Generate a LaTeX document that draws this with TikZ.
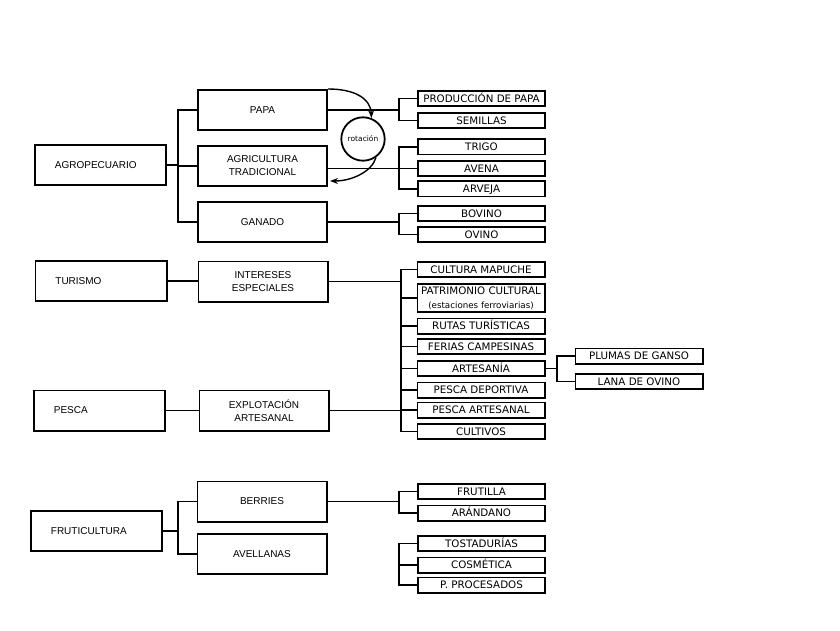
\documentclass[tikz,border=0pt]{standalone}
\usepackage{fontspec}
\setmainfont{DejaVu Sans}
\newfontfamily\arialfont{Liberation Sans}
\usetikzlibrary{calc, arrows.meta}

\begin{document}
\begin{tikzpicture}[x=1pt, y=-1pt, line width=1.8pt,
    sectorbox/.style={draw, rectangle, minimum height=40.2pt, text width=91.2pt, inner xsep=20pt, inner ysep=0pt, align=left, font=\arialfont\fontsize{10}{13}\selectfont},
    bigbox/.style={draw, rectangle, minimum width=129.2pt, minimum height=40.2pt, inner sep=0pt, align=center, font=\arialfont\fontsize{10}{13}\selectfont},
    smallbox/.style={draw, rectangle, minimum width=127.2pt, minimum height=15.2pt, inner sep=0pt, text height=7.4pt, text depth=0pt, align=center, font=\fontsize{10.3}{12}\selectfont},
    rotarrow/.style={line width=1.4pt, -{Stealth[length=8pt, width=6pt]}}]

    % keep the page at the size of the original picture
    \useasboundingbox (0,0) rectangle (840,631);
    \fill[white] (0,0) rectangle (840,631);

    % first column: the sectors
    \node[sectorbox] (agro) at (100.5,165) {AGROPECUARIO};
    \node[sectorbox] (turismo) at (101,281) {TURISMO};
    \node[sectorbox] (pesca) at (99.5,410.5) {PESCA};
    \node[sectorbox] (fruti) at (96.5,531) {FRUTICULTURA};

    % second column
    \node[bigbox] (papa) at (262.5,110) {PAPA};
    \node[bigbox] (agri) at (262.5,166) {AGRICULTURA\\TRADICIONAL};
    \node[bigbox] (ganado) at (262.5,222) {GANADO};
    \node[bigbox] (intereses) at (263,281.5) {INTERESES\\ESPECIALES};
    \node[bigbox] (explot) at (264,410.5) {EXPLOTACIÓN\\ARTESANAL};
    \node[bigbox] (berries) at (262,501.5) {BERRIES};
    \node[bigbox] (avellanas) at (262,554) {AVELLANAS};

    % the crop rotation between PAPA and AGRICULTURA
    \node[draw, circle, minimum size=43.4pt, inner sep=0pt, font=\fontsize{7.5}{9}\selectfont] (rot) at (363,139) {rotación};
    \draw[rotarrow] (papa.north east) .. controls +(26,0) and +(-1,-20) .. (rot.68);
    \draw[rotarrow] (rot.-55) .. controls +(-4,14) and +(22,0) .. ($(agri.south east)+(2,-6)$);

    % third column: the products
    \node[smallbox] (prod) at (481.5,98.5) {PRODUCCIÓN DE PAPA};
    \node[smallbox] (semillas) at (481.5,120.5) {SEMILLAS};
    \node[smallbox] (trigo) at (481.5,147) {TRIGO};
    \node[smallbox] (avena) at (481.5,168.5) {AVENA};
    \node[smallbox] (arveja) at (481.5,189) {ARVEJA};
    \node[smallbox] (bovino) at (481.5,213.5) {BOVINO};
    \node[smallbox] (ovino) at (481.5,234.5) {OVINO};

    \node[smallbox] (cultura) at (481,269.5) {CULTURA MAPUCHE};
    \node[smallbox, minimum height=28.2pt, text height=, text depth=, font=\fontsize{10.3}{14}\selectfont] (patrimonio) at (481,298) {PATRIMONIO CULTURAL\\{\fontsize{8.7}{10}\selectfont (estaciones ferroviarias)}};
    \node[smallbox] (rutas) at (481,326) {RUTAS TURÍSTICAS};
    \node[smallbox] (ferias) at (481,346.5) {FERIAS CAMPESINAS};
    \node[smallbox] (artesania) at (481,368.5) {ARTESANÍA};
    \node[smallbox] (pescadep) at (481,390) {PESCA DEPORTIVA};
    \node[smallbox] (pescaart) at (481,410) {PESCA ARTESANAL};
    \node[smallbox] (cultivos) at (481,431.5) {CULTIVOS};

    \node[smallbox] (plumas) at (639,356) {PLUMAS DE GANSO};
    \node[smallbox] (lana) at (639,381.5) {LANA DE OVINO};

    \node[smallbox] (frutilla) at (481.5,491.5) {FRUTILLA};
    \node[smallbox] (arandano) at (481.5,513) {ARÁNDANO};
    \node[smallbox] (tostadurias) at (481.5,543.5) {TOSTADURÍAS};
    \node[smallbox] (cosmetica) at (481.5,565) {COSMÉTICA};
    \node[smallbox] (procesados) at (481.5,585) {P. PROCESADOS};

    % x positions of the brackets
    \coordinate (bl) at (178,0);
    \coordinate (br) at (399,0);
    \coordinate (bm) at (401,0);
    \coordinate (ba) at (557,0);

    % brackets of the first column
    \foreach \c in {papa, agri, ganado}
        \draw (agro.east) -- (agro.east -| bl) |- (\c.west);
    \foreach \c in {berries, avellanas}
        \draw (fruti.east) -- (fruti.east -| bl) |- (\c.west);
    \draw (turismo.east) -- (turismo.east -| intereses.west);
    \draw (pesca.east) -- (pesca.east -| explot.west);

    % brackets of the second column
    \foreach \c in {prod, semillas}
        \draw (papa.east) -- (papa.east -| br) |- (\c.west);
    \draw (agri.east |- avena.west) -- (avena.west);
    \draw (trigo.west) -- (trigo.west -| br) |- (arveja.west);
    \foreach \c in {bovino, ovino}
        \draw (ganado.east) -- (ganado.east -| br) |- (\c.west);
    \foreach \c in {cultura, patrimonio, rutas, ferias, artesania, pescadep, pescaart, cultivos}
        \draw (intereses.east) -- (intereses.east -| bm) |- (\c.west);
    \draw (explot.east) -- (explot.east -| bm);
    \foreach \c in {frutilla, arandano}
        \draw (berries.east) -- (berries.east -| br) |- (\c.west);
    \draw (tostadurias.west) -- (tostadurias.west -| br) |- (procesados.west);
    \draw (cosmetica.west) -- (cosmetica.west -| br);

    % artesania goes on
    \foreach \c in {plumas, lana}
        \draw (artesania.east) -- (artesania.east -| ba) |- (\c.west);

\end{tikzpicture}
\end{document}
